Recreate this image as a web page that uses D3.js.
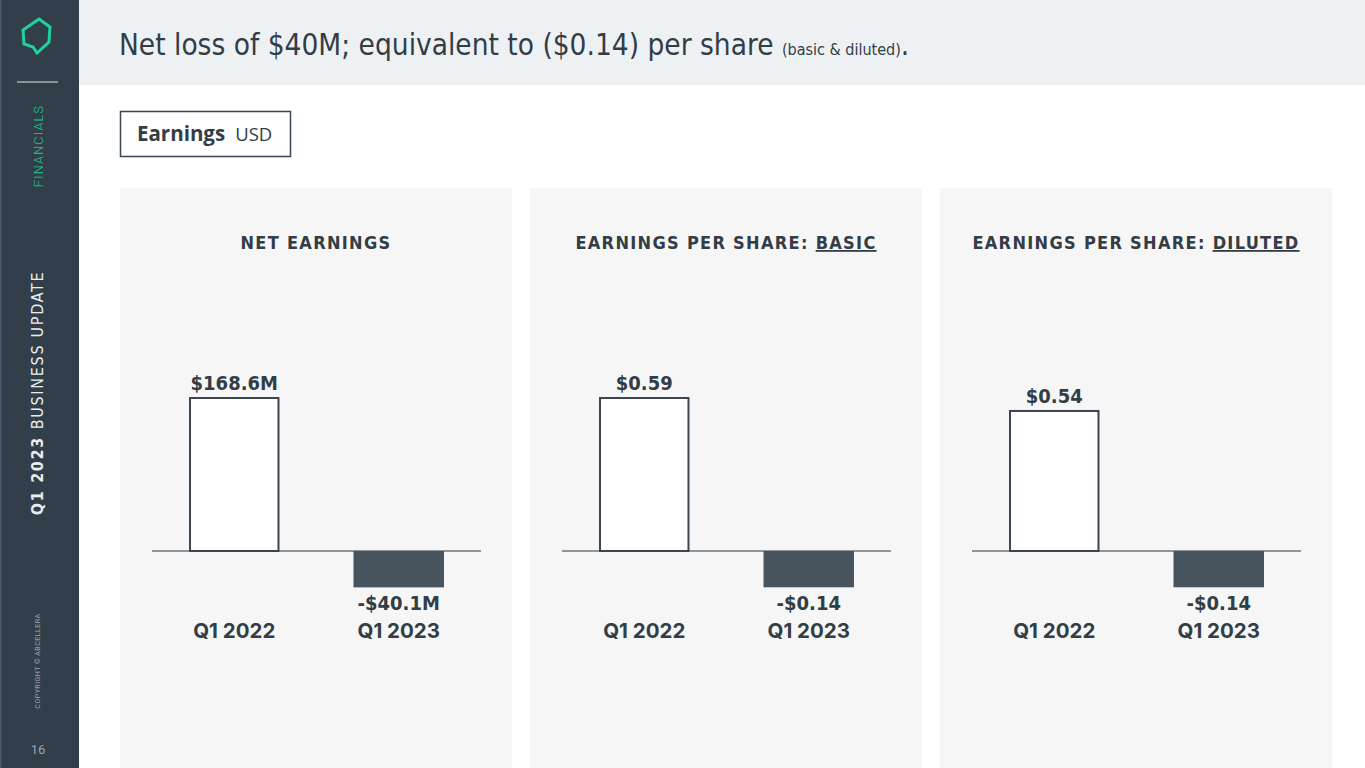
<!DOCTYPE html>
<html>
<head>
<meta charset="utf-8">
<script src="https://cdn.jsdelivr.net/npm/d3@7.9.0/dist/d3.min.js"></script>
<style>
  body { margin: 0; background: #fff; }
  svg { display: block; }
  .cond { font-family: "DejaVu Sans Condensed", "Liberation Sans Narrow", sans-serif; }
</style>
</head>
<body>
<svg id="chart" width="1365" height="768"></svg>
<script>
// data
const categories = ['Q1 2022', 'Q1 2023'];
const netEarnings = [168.6, -40.1];        // USD millions
const epsBasic = [0.59, -0.14];
const epsDiluted = [0.54, -0.14];
const panelTitles = ['NET EARNINGS', 'EARNINGS PER SHARE: ', 'EARNINGS PER SHARE: '];
const panelUnderlined = ['', 'BASIC', 'DILUTED'];
const valueLabels = [['$168.6M', '-$40.1M'], ['$0.59', '-$0.14'], ['$0.54', '-$0.14']];

const dark = '#3b4650';
const svg = d3.select('#chart');

// page chrome
svg.append('rect').attr('x', 0).attr('y', 0).attr('width', 79).attr('height', 768).attr('fill', '#323f4a');
svg.append('rect').attr('x', 0).attr('y', 0).attr('width', 1.5).attr('height', 768).attr('fill', '#4d5a64');
svg.append('rect').attr('x', 79).attr('y', 0).attr('width', 1286).attr('height', 85).attr('fill', '#eef1f4');

svg.append('path')
  .attr('d', 'M39,19 L50,27 L49,42 L37,53 L33,47 L24,44 L23,30 Z')
  .attr('fill', 'none').attr('stroke', '#1ed39e').attr('stroke-width', 3).attr('stroke-linejoin', 'miter');
svg.append('line').attr('x1', 17).attr('x2', 58).attr('y1', 82).attr('y2', 82)
  .attr('stroke', '#a9b1b7').attr('stroke-width', 1.5);

const vtext = (y, opts) => svg.append('text')
  .attr('transform', `translate(${opts.x || 43},${y}) rotate(-90)`)
  .attr('text-anchor', 'middle')
  .attr('font-family', opts.family || 'Roboto, sans-serif')
  .attr('font-size', opts.size)
  .attr('fill', opts.color)
  .attr('letter-spacing', opts.ls || 0);

vtext(146, { size: 12.5, color: '#1ec994', ls: 1.3 }).attr('font-weight', 300).text('FINANCIALS');
const bu = vtext(393, { size: 16, color: '#e8ecef', ls: 1.7, family: '"DejaVu Sans Condensed", sans-serif' });
bu.append('tspan').attr('font-weight', 'bold').text('Q1 2023 ');
bu.append('tspan').text('BUSINESS UPDATE');
vtext(661, { size: 7, color: '#9aa4ab', ls: 0.5, x: 40 }).text('COPYRIGHT © ABCELLERA');
svg.append('text').attr('x', 38).attr('y', 754).attr('text-anchor', 'middle')
  .attr('font-family', 'Roboto, sans-serif').attr('font-size', 13).attr('fill', '#9aa4ab').text('16');

// title
const title = svg.append('text').attr('x', 119).attr('y', 55)
  .attr('font-family', '"Liberation Sans Narrow", "DejaVu Sans Condensed", sans-serif')
  .attr('fill', '#333d46');
title.append('tspan').attr('font-size', 29.5).text('Net loss of $40M; equivalent to ($0.14) per share ');
title.append('tspan').attr('font-size', 16).text('(basic & diluted)');
title.append('tspan').attr('font-size', 29.5).text('.');

// Earnings USD box
svg.append('rect').attr('x', 120.5).attr('y', 111.5).attr('width', 170).attr('height', 45)
  .attr('fill', '#fff').attr('stroke', dark).attr('stroke-width', 1.5);
const box = svg.append('text').attr('x', 137).attr('y', 141).attr('fill', '#333d46')
  .attr('font-family', '"Open Sans", sans-serif');
box.append('tspan').attr('font-size', 20.5).attr('font-weight', 'bold').text('Earnings');
box.append('tspan').attr('font-size', 18.5).attr('dx', 10).text('USD');

// panels
const panels = [
  { x0: 120, data: netEarnings, max: d3.max(netEarnings) },
  { x0: 530, data: epsBasic, max: d3.max(epsBasic) },
  { x0: 940, data: epsDiluted, max: d3.max(epsBasic) }
];
const panelW = 392;
const baseline = 551;
const fullBar = 153;

panels.forEach((p, i) => {
  const g = svg.append('g').attr('transform', `translate(${p.x0},0)`);
  g.append('rect').attr('x', 0).attr('y', 188).attr('width', panelW).attr('height', 580).attr('fill', '#f6f6f6');

  const t = g.append('text').attr('x', panelW / 2).attr('y', 249).attr('text-anchor', 'middle')
    .attr('class', 'cond').attr('font-size', 18).attr('font-weight', 'bold')
    .attr('letter-spacing', 1.3).attr('fill', '#333d46');
  t.append('tspan').text(panelTitles[i]);
  if (panelUnderlined[i]) t.append('tspan').attr('text-decoration', 'underline').text(panelUnderlined[i]);

  const x = d3.scaleBand().domain(categories).range([32, 361]).paddingInner(0.45).paddingOuter(0.225);
  const y = d3.scaleLinear().domain([0, p.max]).range([baseline, baseline - fullBar]);

  g.append('line').attr('x1', 32).attr('x2', 361).attr('y1', y(0)).attr('y2', y(0))
    .attr('stroke', '#6b7680').attr('stroke-width', 1.3);

  g.selectAll('rect.bar').data(p.data).join('rect').attr('class', 'bar')
    .attr('x', (d, j) => x(categories[j]) + (d >= 0 ? 1 : 0))
    .attr('width', (d) => x.bandwidth() - (d >= 0 ? 2 : 0))
    .attr('y', d => Math.min(y(d), y(0)))
    .attr('height', d => Math.abs(y(d) - y(0)))
    .attr('fill', d => d >= 0 ? '#fff' : '#47545e')
    .attr('stroke', d => d >= 0 ? dark : 'none')
    .attr('stroke-width', 2);

  g.selectAll('text.val').data(p.data).join('text').attr('class', 'val cond')
    .attr('x', (d, j) => x(categories[j]) + x.bandwidth() / 2)
    .attr('y', d => d >= 0 ? y(d) - 8 : y(d) + 23)
    .attr('text-anchor', 'middle').attr('font-size', 20).attr('font-weight', 'bold')
    .attr('letter-spacing', 0).attr('fill', '#333d46')
    .text((d, j) => valueLabels[i][j]);

  g.selectAll('text.cat').data(categories).join('text').attr('class', 'cat')
    .attr('x', d => x(d) + x.bandwidth() / 2).attr('y', 638)
    .attr('text-anchor', 'middle').attr('font-family', 'Inter, sans-serif')
    .attr('font-size', 20.5).attr('font-weight', 'bold').attr('fill', '#333d46')
    .text(d => d);
});
</script>
</body>
</html>
